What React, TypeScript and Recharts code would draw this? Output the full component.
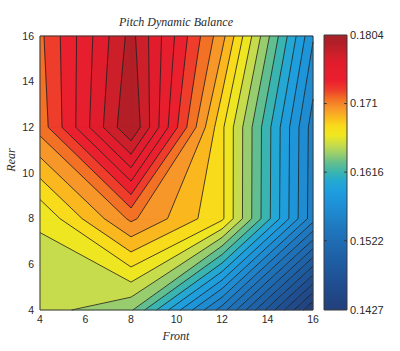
import React from "react";
import { ScatterChart, Scatter, XAxis, YAxis, ReferenceArea, ReferenceLine } from "recharts";

// axis ticks
const frontTicks = [4, 6, 8, 10, 12, 14, 16];
const rearTicks = [4, 6, 8, 10, 12, 14, 16];

// measured grid: balance at every (front, rear) node
const frontNodes = [4, 8, 12, 16];
const rearNodes = [4, 8, 12, 16];
const balanceAtRear4 = [0.16589, 0.16425, 0.15464, 0.1427];
const balanceAtRear8 = [0.1667, 0.17186, 0.16809, 0.15577];
const balanceAtRear12 = [0.17211, 0.1804, 0.16809, 0.1559];
const balanceAtRear16 = [0.17255, 0.17958, 0.17079, 0.15791];

const colorbarTicks = [0.1427, 0.1522, 0.1616, 0.171, 0.1804];
const contourCount = 29;

const cmapStops: [number, string][] = [
  [0.0, "#223f7a"],
  [0.1, "#1f4f92"],
  [0.2, "#1e62a8"],
  [0.3, "#1f78bf"],
  [0.37, "#1f8dd3"],
  [0.43, "#1e9ddf"],
  [0.47, "#24a9d2"],
  [0.5, "#3ab4b0"],
  [0.535, "#63be8f"],
  [0.57, "#9ccf6a"],
  [0.6, "#c6dc4c"],
  [0.635, "#f0e71f"],
  [0.67, "#f9db1b"],
  [0.7, "#fbb81e"],
  [0.735, "#f7952a"],
  [0.77, "#f36d25"],
  [0.8, "#ee3d2b"],
  [0.835, "#eb1f2e"],
  [0.9, "#e11c2c"],
  [0.935, "#cb1f2a"],
  [0.97, "#b21e27"],
  [1.0, "#a8232a"],
];

const hex = (c: string) => [1, 3, 5].map(i => parseInt(c.slice(i, i + 2), 16));
function colorAt(f: number) {
  for (let i = 1; i < cmapStops.length; i++) {
    const [f1, c1] = cmapStops[i];
    const [f0, c0] = cmapStops[i - 1];
    if (f <= f1) {
      const t = (f - f0) / (f1 - f0);
      const a = hex(c0), b = hex(c1);
      return `rgb(${a.map((v, k) => Math.round(v + (b[k] - v) * t)).join(",")})`;
    }
  }
  return cmapStops[cmapStops.length - 1][1];
}

type Pt = { x: number; y: number; z: number };

const grid = [balanceAtRear4, balanceAtRear8, balanceAtRear12, balanceAtRear16];
const zMin = colorbarTicks[0];
const zMax = colorbarTicks[colorbarTicks.length - 1];
const step = (zMax - zMin) / (contourCount + 1);
const levels = Array.from({ length: contourCount }, (_, k) => zMin + (k + 1) * step);

function cellAt(i: number, j: number): Pt[] {
  return [
    { x: frontNodes[i], y: rearNodes[j], z: grid[j][i] },
    { x: frontNodes[i + 1], y: rearNodes[j], z: grid[j][i + 1] },
    { x: frontNodes[i + 1], y: rearNodes[j + 1], z: grid[j + 1][i + 1] },
    { x: frontNodes[i], y: rearNodes[j + 1], z: grid[j + 1][i] },
  ];
}

function clipPoly(poly: Pt[], level: number, above: boolean): Pt[] {
  const out: Pt[] = [];
  for (let i = 0; i < poly.length; i++) {
    const a = poly[i], b = poly[(i + 1) % poly.length];
    const ina = above ? a.z >= level : a.z <= level;
    const inb = above ? b.z >= level : b.z <= level;
    if (ina) out.push(a);
    if (ina !== inb) {
      const t = (level - a.z) / (b.z - a.z);
      out.push({ x: a.x + t * (b.x - a.x), y: a.y + t * (b.y - a.y), z: level });
    }
  }
  return out;
}

const bounds = [zMin, ...levels, zMax];
const bands = bounds.slice(0, -1).map((lo, b) => {
  const hi = bounds[b + 1];
  const pts: { x: number; y: number }[] = [];
  const sizes: number[] = [];
  for (let j = 0; j < rearNodes.length - 1; j++) {
    for (let i = 0; i < frontNodes.length - 1; i++) {
      const p = clipPoly(clipPoly(cellAt(i, j), lo, true), hi, false);
      if (p.length >= 3) {
        p.forEach(q => pts.push({ x: q.x, y: q.y }));
        sizes.push(p.length);
      }
    }
  }
  return { color: colorAt(b / (bounds.length - 1)), pts, sizes };
}).filter(b => b.sizes.length > 0);

const contours = levels.map(lv => {
  const pts: { x: number; y: number }[] = [];
  for (let j = 0; j < rearNodes.length - 1; j++) {
    for (let i = 0; i < frontNodes.length - 1; i++) {
      const c = cellAt(i, j);
      const hits: { x: number; y: number }[] = [];
      for (let e = 0; e < 4; e++) {
        const a = c[e], b = c[(e + 1) % 4];
        if ((a.z - lv) * (b.z - lv) < 0) {
          const t = (lv - a.z) / (b.z - a.z);
          hits.push({ x: a.x + t * (b.x - a.x), y: a.y + t * (b.y - a.y) });
        }
      }
      if (hits.length >= 2) pts.push(hits[0], hits[1]);
      if (hits.length === 4) pts.push(hits[2], hits[3]);
    }
  }
  return pts;
}).filter(p => p.length > 0);

const frame = [
  { x: frontTicks[0], y: rearTicks[0] },
  { x: frontTicks[frontTicks.length - 1], y: rearTicks[0] },
  { x: frontTicks[frontTicks.length - 1], y: rearTicks[rearTicks.length - 1] },
  { x: frontTicks[0], y: rearTicks[rearTicks.length - 1] },
  { x: frontTicks[0], y: rearTicks[0] },
];

// colorbar ends (bar spans the full data range)
const colorbarEnds = [{ x: 0, y: zMin }, { x: 1, y: zMax }];

const noDot = () => <g />;

function pathOf(points: { x: number; y: number }[], sizes: number[], close: boolean) {
  let d = "";
  let k = 0;
  for (const n of sizes) {
    const seg = points.slice(k, k + n);
    k += n;
    if (seg.length < 2) continue;
    d += "M" + seg.map(p => `${p.x.toFixed(2)},${p.y.toFixed(2)}`).join("L") + (close ? "Z" : "");
  }
  return d;
}

const tickStyle = { fontFamily: "Liberation Sans, Arial, sans-serif", fontSize: 10.5, fill: "#2a2a2a" };
const serif = { fontFamily: "Liberation Serif, Times New Roman, serif", fontStyle: "italic" as const, fontSize: 12, fill: "#2a2a2a" };

export default function App() {
  return (
    <div style={{ position: "absolute", left: 0, top: 0, width: 400, height: 351, background: "#fff" }}>
      <div style={{ position: "absolute", left: 0, top: 0 }}>
        <ScatterChart width={400} height={351} margin={{ top: 36, right: 87, bottom: 11, left: 0 }}>
          <XAxis type="number" dataKey="x" domain={[4, 16]} ticks={frontTicks} height={30}
            tickLine={false} axisLine={false} tickMargin={0} tick={tickStyle} />
          <YAxis type="number" dataKey="y" domain={[4, 16]} ticks={rearTicks} width={40}
            tickLine={false} axisLine={false} tickMargin={0} tick={tickStyle} />
          {bands.map((b, i) => (
            <Scatter key={`band-${i}`} data={b.pts} isAnimationActive={false} shape={noDot}
              lineType="joint" legendType="none"
              line={(p: any) => <path d={pathOf(p.points, b.sizes, true)} fill={b.color} stroke={b.color} strokeWidth={0.6} />} />
          ))}
          {contours.map((pts, i) => (
            <Scatter key={`lvl-${i}`} data={pts} isAnimationActive={false} shape={noDot}
              lineType="joint" legendType="none"
              line={(p: any) => <path d={pathOf(p.points, pts.map(() => 2).slice(0, pts.length / 2), false)} fill="none" stroke="#1c1c1c" strokeWidth={0.8} />} />
          ))}
          <Scatter data={frame} isAnimationActive={false} shape={noDot} lineType="joint" legendType="none"
            line={{ stroke: "#3a3a3a", strokeWidth: 1 }} />
          <text x={176} y={26} textAnchor="middle" style={serif}>Pitch Dynamic Balance</text>
          <text x={176} y={340} textAnchor="middle" style={serif}>Front</text>
          <text x={15} y={160} textAnchor="middle" transform="rotate(-90 15 160)" style={serif}>Rear</text>
        </ScatterChart>
      </div>
      <div style={{ position: "absolute", left: 0, top: 0 }}>
        <ScatterChart width={400} height={351} margin={{ top: 35, right: 0, bottom: 41, left: 324 }}>
          <defs>
            <linearGradient id="cbar" x1="0" y1="0" x2="0" y2="1">
              {[...cmapStops].reverse().map(([f, c]) => (
                <stop key={f} offset={`${((1 - f) * 100).toFixed(1)}%`} stopColor={c} />
              ))}
            </linearGradient>
          </defs>
          <XAxis type="number" dataKey="x" domain={[0, 1]} hide />
          <YAxis type="number" dataKey="y" orientation="right" domain={[zMin, zMax]} ticks={colorbarTicks} width={53}
            tickLine={false} axisLine={false} tickSize={0} tickMargin={3}
            tick={{ ...tickStyle, fontSize: 11 }} />
          <Scatter data={colorbarEnds} isAnimationActive={false} shape={noDot} legendType="none" />
          <ReferenceArea x1={0} x2={1} y1={zMin} y2={zMax} fill="url(#cbar)" fillOpacity={1} stroke="#3a3a3a" strokeWidth={1} />
          {colorbarTicks.slice(1, -1).map(v => (
            <ReferenceLine key={`l${v}`} segment={[{ x: 0, y: v }, { x: 0.12, y: v }]} stroke="#333" />
          ))}
          {colorbarTicks.slice(1, -1).map(v => (
            <ReferenceLine key={`r${v}`} segment={[{ x: 0.88, y: v }, { x: 1, y: v }]} stroke="#333" />
          ))}
        </ScatterChart>
      </div>
    </div>
  );
}
